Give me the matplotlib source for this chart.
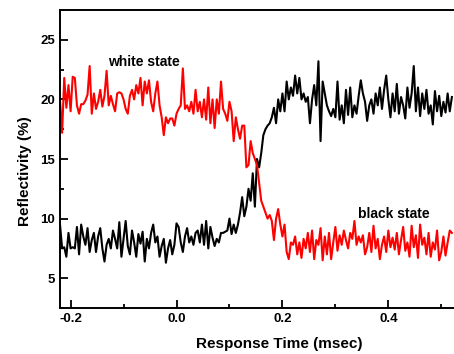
import numpy as np
import matplotlib
matplotlib.use("Agg")
import matplotlib.pyplot as plt
from matplotlib.ticker import MultipleLocator

plt.rcParams['font.family'] = ['Liberation Sans', 'DejaVu Sans']
plt.rcParams['font.weight'] = 'bold'

t_start = -0.22
t_end = 0.52

white_state = [
    20.0, 17.2, 21.8, 19.3, 21.2, 19.0,
    21.9, 21.8, 19.5, 18.8, 19.6,
    19.6, 19.9, 20.4, 22.8, 18.8,
    20.5, 19.2, 19.8, 20.8, 19.4,
    20.3, 22.4, 19.5, 20.3, 19.6,
    19.0, 20.5, 20.6, 20.5, 20.0,
    19.2, 18.8, 20.3, 20.8, 20.0,
    21.2, 20.5, 21.8, 19.5, 21.5,
    20.5, 21.6, 19.8, 19.0, 20.5,
    21.5, 19.5, 18.5, 17.0, 18.5,
    18.0, 18.4, 18.4, 17.8, 18.8,
    19.2, 19.5, 22.6, 19.2, 19.5,
    19.0, 19.8, 18.8, 20.8, 19.0,
    19.8, 18.5, 20.0, 18.3, 21.0,
    18.0, 20.0, 17.6, 20.0, 18.8,
    21.5, 19.2, 18.8, 18.2, 19.8,
    19.0, 16.5, 18.5, 17.5, 16.7,
    17.8, 17.8, 14.3, 14.5, 16.5,
    15.5, 15.0, 14.5, 13.0, 11.5,
    11.0, 10.5, 10.0, 10.3, 9.8,
    8.2, 10.0, 10.8, 9.5, 8.5,
    9.5, 7.2, 6.6, 8.0, 7.8, 8.5,
    7.0, 8.0, 6.7, 8.3, 7.5, 8.8, 7.2, 9.0, 6.6, 8.2,
    7.8, 9.2, 6.5, 8.5, 7.0, 8.8, 6.6, 8.0, 9.3, 7.3,
    8.6, 7.8, 9.0, 8.2, 7.5, 8.8, 8.3, 9.8, 7.8, 8.5,
    8.0, 8.6, 7.0, 7.6, 8.8, 7.2, 9.4, 7.5, 8.3, 6.6,
    7.8, 8.5, 7.2, 9.0, 7.6, 8.4, 7.4, 8.8, 7.0, 8.2,
    9.3, 7.3, 8.0, 6.8, 9.4, 7.6, 8.6, 6.7, 9.5, 7.8,
    8.4, 7.0, 8.8, 6.8, 8.0, 7.4, 9.0, 6.5, 7.2, 8.5,
    6.9, 8.0, 9.0, 8.8,
]

black_state = [
    9.5, 7.5, 7.6, 6.8, 8.8, 7.5,
    7.6, 7.5, 9.3, 7.0, 9.5,
    8.5, 7.8, 9.2, 7.2, 8.2,
    8.8, 7.2, 8.5, 9.2, 7.5,
    6.4, 7.8, 8.3, 7.5, 9.0,
    8.3, 7.5, 9.7, 6.8, 8.3,
    9.8, 7.7, 7.0, 9.0, 8.0,
    6.8, 8.7, 7.9, 8.9, 6.4,
    8.3, 7.5, 8.8, 9.5, 8.0,
    8.5, 6.8, 7.7, 8.3, 6.3,
    7.5, 8.2, 7.0, 7.8, 9.6,
    9.3, 8.0, 7.2, 8.5, 9.2,
    8.0, 8.5, 7.8, 8.8, 9.0,
    8.0, 9.5, 7.8, 9.8, 7.5,
    9.3, 8.4, 7.7, 8.3, 8.0,
    8.8, 8.8, 8.9, 9.0, 10.0,
    8.7, 9.5, 8.8, 9.5, 10.5,
    11.8, 10.2, 11.0, 12.5, 11.5,
    13.8, 11.0, 15.0, 14.3, 15.5,
    17.0, 17.5, 17.8, 18.0, 18.5,
    19.3, 18.0, 20.0, 19.0, 20.5,
    19.0, 21.5, 20.0, 21.0, 20.3,
    22.0, 20.5, 21.8, 20.0, 20.5,
    19.8, 20.2, 18.0, 20.0, 21.2,
    19.5, 23.2, 16.5, 21.5, 20.5, 19.5,
    19.0, 18.6, 19.2, 18.5, 21.5, 18.3, 19.5, 18.0, 20.8, 18.7,
    21.0, 18.5, 19.5, 18.8, 20.3, 21.6, 20.5, 19.8, 18.2, 19.5,
    20.0, 18.8, 20.5, 19.5, 21.0, 19.2, 20.8, 22.0, 20.0, 18.5,
    20.5, 19.0, 21.3, 18.8, 20.2, 19.5, 18.4, 21.0, 19.3, 20.5,
    22.8, 19.0, 21.0, 18.6, 20.5, 19.2, 20.8, 18.8, 19.5, 17.9,
    20.7, 19.0, 20.3, 18.6, 19.8, 18.9, 20.5, 19.0, 20.2,
]

x_white = np.linspace(t_start, t_end, len(white_state))
x_black = np.linspace(t_start, t_end, len(black_state))

fig = plt.figure(figsize=(4.54, 3.54), dpi=100)
ax = fig.add_axes([60/454, 46/354, 394/454, 298/354])

ax.plot(x_black, black_state, color='black', lw=1.5)
ax.plot(x_white, white_state, color='#ff0000', lw=1.5)

ax.set_xlim(-0.22, 0.524)
ax.set_ylim(2.5, 27.5)
ax.xaxis.set_major_locator(MultipleLocator(0.2))
ax.xaxis.set_minor_locator(MultipleLocator(0.1))
ax.yaxis.set_major_locator(MultipleLocator(5))
ax.yaxis.set_minor_locator(MultipleLocator(2.5))
ax.xaxis.set_major_formatter(matplotlib.ticker.FormatStrFormatter('%.1f'))

ax.tick_params(which='both', direction='in', width=1.3, labelsize=9.5)
ax.tick_params(which='major', length=6)
ax.tick_params(which='minor', length=3)
for lab in ax.get_xticklabels() + ax.get_yticklabels():
    lab.set_fontweight('bold')

ax.spines['right'].set_visible(False)
for s in ['left', 'top', 'bottom']:
    ax.spines[s].set_linewidth(1.4)

ax.set_xlabel('Response Time (msec)', fontsize=11, fontweight='bold')
ax.set_ylabel('Reflectivity (%)', fontsize=11, fontweight='bold')
ax.xaxis.set_label_coords(0.556, -0.097)
ax.yaxis.set_label_coords(-0.071, 0.46)

ax.text(-0.061, 23.17, 'white state', fontsize=10, fontweight='bold', ha='center', va='center')
ax.text(0.411, 10.42, 'black state', fontsize=10, fontweight='bold', ha='center', va='center')

fig.savefig('out.png', dpi=100)
